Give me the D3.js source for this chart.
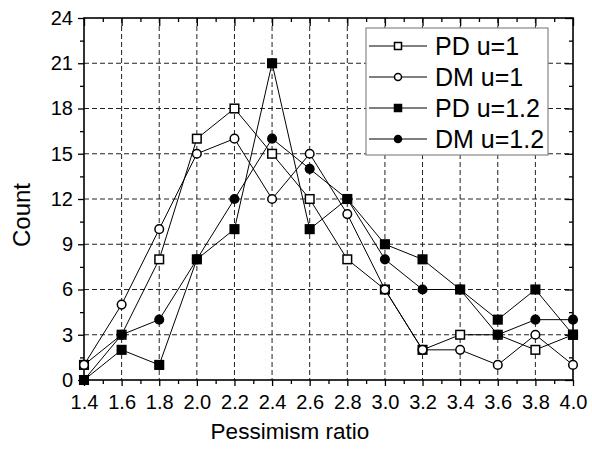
<!DOCTYPE html>
<html lang="en">
<head>
  <meta charset="UTF-8">
  <title>Pessimism ratio</title>
  <script src="https://cdn.jsdelivr.net/npm/d3@7"></script>
  <style>
    html, body { margin: 0; padding: 0; background: #fff; }
    svg { display: block; font-family: "Liberation Sans", Arial, sans-serif; }
  </style>
</head>
<body>
  <svg id="chart" width="592" height="457"></svg>
  <script>
    const ratios = [1.4, 1.6, 1.8, 2.0, 2.2, 2.4, 2.6, 2.8, 3.0, 3.2, 3.4, 3.6, 3.8, 4.0];
    const pdU1   = [1, 3, 8, 16, 18, 15, 12, 8, 6, 2, 3, 3, 2, 3];
    const dmU1   = [1, 5, 10, 15, 16, 12, 15, 11, 6, 2, 2, 1, 3, 1];
    const pdU12  = [0, 2, 1, 8, 10, 21, 10, 12, 9, 8, 6, 4, 6, 3];
    const dmU12  = [0, 3, 4, 8, 12, 16, 14, 12, 8, 6, 6, 3, 4, 4];
    const seriesNames = ['PD u=1', 'DM u=1', 'PD u=1.2', 'DM u=1.2'];
    const yTicks = [0, 3, 6, 9, 12, 15, 18, 21, 24];

    const series = [
      {name: seriesNames[0], values: pdU1,  shape: 'square', fill: '#fff'},
      {name: seriesNames[1], values: dmU1,  shape: 'circle', fill: '#fff'},
      {name: seriesNames[2], values: pdU12, shape: 'square', fill: '#000'},
      {name: seriesNames[3], values: dmU12, shape: 'circle', fill: '#000'},
    ];

    const svg = d3.select('#chart');
    const pl = 84, pr = 573, pt = 18, pb = 380;

    const x = d3.scaleLinear().domain([1.4, 4.0]).range([pl, pr]);
    const y = d3.scaleLinear().domain([0, 24]).range([pb, pt]);

    const xMajor = d3.range(14).map(i => +(1.4 + i * 0.2).toFixed(1));
    const xMinor = d3.range(13).map(i => +(1.5 + i * 0.2).toFixed(1));
    const yMinor = d3.range(8).map(i => 1.5 + i * 3);

    // grid
    const grid = svg.append('g').attr('class', 'grid');
    grid.selectAll('line.gx').data(xMajor.slice(1, -1)).join('line').attr('class', 'gx')
      .attr('x1', d => x(d)).attr('x2', d => x(d))
      .attr('y1', pt).attr('y2', pb);
    grid.selectAll('line.gy').data(yTicks.slice(1, -1)).join('line').attr('class', 'gy')
      .attr('x1', pl).attr('x2', pr)
      .attr('y1', d => y(d)).attr('y2', d => y(d));
    grid.selectAll('line')
      .attr('stroke', '#222').attr('stroke-width', 1)
      .attr('stroke-dasharray', '5,3');

    // axes
    const fmt = d3.format('.1f');
    svg.append('g').attr('transform', `translate(0,${pb})`)
      .call(d3.axisBottom(x).tickValues(xMajor).tickFormat(fmt).tickSize(6).tickPadding(9));
    svg.append('g').attr('transform', `translate(0,${pb})`)
      .call(d3.axisBottom(x).tickValues(xMinor).tickFormat('').tickSize(4));
    svg.append('g').attr('transform', `translate(0,${pt})`)
      .call(d3.axisTop(x).tickValues(xMajor).tickFormat('').tickSize(-8));
    svg.append('g').attr('transform', `translate(0,${pt})`)
      .call(d3.axisTop(x).tickValues(xMinor).tickFormat('').tickSize(-4));

    svg.append('g').attr('transform', `translate(${pl},0)`)
      .call(d3.axisLeft(y).tickValues(yTicks).tickSize(6).tickPadding(5));
    svg.append('g').attr('transform', `translate(${pl},0)`)
      .call(d3.axisLeft(y).tickValues(yMinor).tickFormat('').tickSize(4));
    svg.append('g').attr('transform', `translate(${pr},0)`)
      .call(d3.axisRight(y).tickValues(yTicks).tickFormat('').tickSize(-8));
    svg.append('g').attr('transform', `translate(${pr},0)`)
      .call(d3.axisRight(y).tickValues(yMinor).tickFormat('').tickSize(-4));

    svg.selectAll('.domain').remove();
    svg.selectAll('.tick line').attr('stroke', '#000').attr('stroke-width', 1.3);
    svg.selectAll('.tick text').attr('font-size', 20).attr('fill', '#000')
      .attr('font-family', '"Liberation Sans", Arial, sans-serif');

    svg.append('rect')
      .attr('x', pl).attr('y', pt)
      .attr('width', pr - pl).attr('height', pb - pt)
      .attr('fill', 'none').attr('stroke', '#000').attr('stroke-width', 1.6);

    // lines and markers
    const line = d3.line().x((d, i) => x(ratios[i])).y(d => y(d));
    function marker(g, shape, fill, size) {
      if (shape === 'square') {
        g.append('rect').attr('x', -size / 2).attr('y', -size / 2)
          .attr('width', size).attr('height', size)
          .attr('fill', fill).attr('stroke', '#000').attr('stroke-width', 1.5);
      } else {
        g.append('circle').attr('r', size / 2)
          .attr('fill', fill).attr('stroke', '#000').attr('stroke-width', 1.5);
      }
    }

    series.forEach(s => {
      svg.append('path').datum(s.values).attr('d', line)
        .attr('fill', 'none').attr('stroke', '#000').attr('stroke-width', 1);
    });
    series.forEach(s => {
      s.values.forEach((v, i) => {
        const g = svg.append('g').attr('transform', `translate(${x(ratios[i])},${y(v)})`);
        marker(g, s.shape, s.fill, 8.6);
      });
    });

    // legend
    const legend = svg.append('g');
    legend.append('rect').attr('x', 366).attr('y', 28).attr('width', 182).attr('height', 127)
      .attr('fill', '#fff').attr('stroke', '#888').attr('stroke-width', 1.2);
    series.forEach((s, i) => {
      const cy = 46 + i * 31;
      legend.append('line').attr('x1', 369).attr('x2', 427).attr('y1', cy).attr('y2', cy)
        .attr('stroke', '#000').attr('stroke-width', 1);
      const g = legend.append('g').attr('transform', `translate(398,${cy})`);
      marker(g, s.shape, s.fill, 7);
      legend.append('text').attr('x', 435).attr('y', cy + 9)
        .attr('font-size', 25).text(s.name);
    });

    // titles
    svg.append('text').attr('x', 290).attr('y', 439).attr('text-anchor', 'middle')
      .attr('font-size', 22.5).text('Pessimism ratio');
    svg.append('text').attr('transform', 'translate(30,215) rotate(-90)')
      .attr('text-anchor', 'middle').attr('font-size', 24).text('Count');
  </script>
</body>
</html>
